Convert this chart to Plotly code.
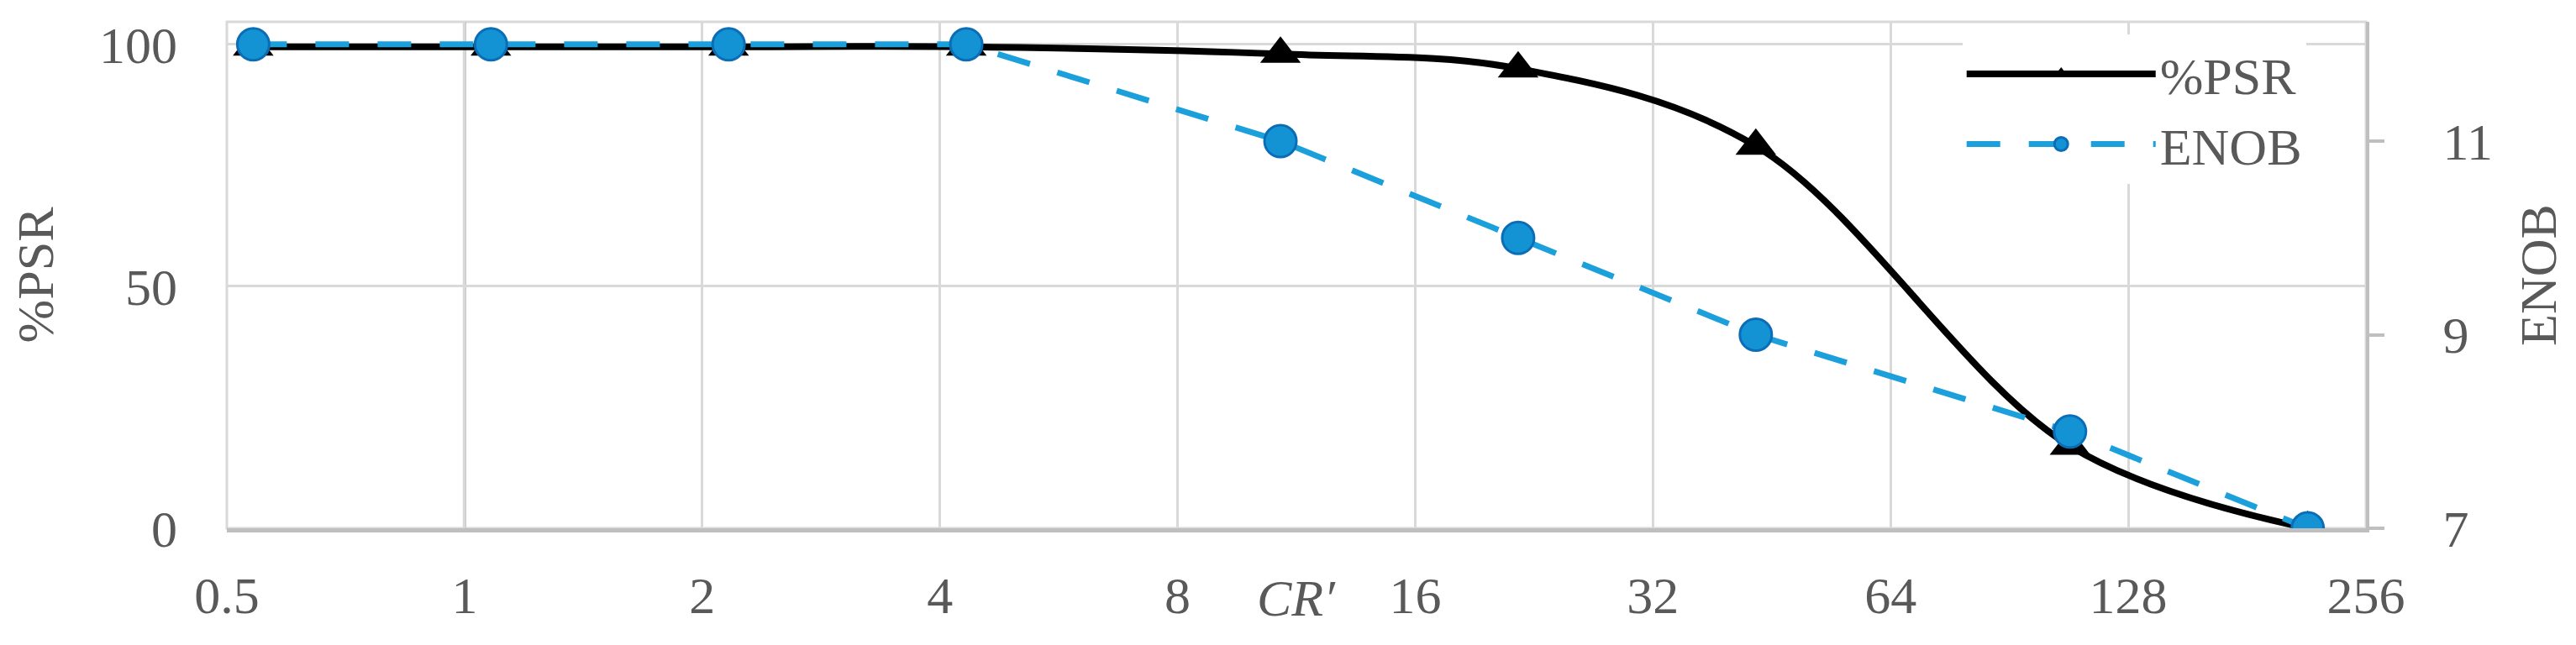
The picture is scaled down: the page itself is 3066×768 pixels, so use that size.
import math
import plotly.graph_objects as go

# ---- data ----
cr_values = [0.54, 1.08, 2.16, 4.32, 10.8, 21.6, 43.2, 108, 216]
psr_values = [99.5, 99.5, 99.5, 99.5, 98, 95, 79, 17, 0]
enob_values = [12, 12, 12, 12, 11, 10, 9, 8, 7]
x_tickvals = [0.5, 1, 2, 4, 8, 16, 32, 64, 128, 256]
x_ticktext = ["0.5", "1", "2", "4", "8", "16", "32", "64", "128", "256"]
psr_ticks = [0, 50, 100]
enob_ticks = [7, 9, 11]
cr_prime = 11.3
axis_cross = 1

FONT = "Liberation Serif"
GREY_TXT = "#595959"
GRID = "#D9D9D9"
AXIS = "#BFBFBF"
FS = 62

fig = go.Figure()
fig.add_trace(go.Scatter(
    x=cr_values, y=psr_values, name="%PSR", mode="lines+markers",
    line=dict(color="black", width=8, shape="spline", smoothing=1),
    marker=dict(symbol="triangle-up", size=42, color="black"),
    yaxis="y"))
fig.add_trace(go.Scatter(
    x=cr_values, y=enob_values, name="ENOB", mode="lines+markers",
    line=dict(color="#1BA0DC", width=7, dash="40px,34px"),
    marker=dict(symbol="circle", size=38, color="#1393D3",
                line=dict(color="#0B6DB6", width=3)),
    yaxis="y2"))

# page body has an 8px margin, so the figure is sized to fit the window
fig.update_layout(
    width=3058, height=760,
    margin=dict(l=262, r=250, t=18, b=139, autoexpand=False),
    paper_bgcolor="white", plot_bgcolor="white",
    font=dict(family=FONT, size=FS, color=GREY_TXT),
    showlegend=True,
    legend=dict(x=0.972, xanchor="right", y=0.975, yanchor="top",
                bgcolor="white", borderwidth=0,
                font=dict(family=FONT, size=FS, color=GREY_TXT),
                itemwidth=225, tracegroupgap=0),
    xaxis=dict(type="log", automargin=False,
               range=[math.log10(x_tickvals[0]), math.log10(x_tickvals[-1])],
               tickvals=x_tickvals, ticktext=x_ticktext,
               showgrid=True, gridcolor=GRID, gridwidth=3,
               showline=True, linecolor=AXIS, linewidth=5,
               ticks="", ticklabelstandoff=22, zeroline=False,
               tickfont=dict(family=FONT, size=FS, color=GREY_TXT)),
    yaxis=dict(range=[0, 104.66], tickvals=psr_ticks, automargin=False,
               showgrid=True, gridcolor=GRID, gridwidth=3,
               zeroline=False, showline=False, ticks="",
               ticklabelstandoff=58,
               title=dict(text="%PSR", standoff=39,
                          font=dict(family=FONT, size=FS, color=GREY_TXT)),
               tickfont=dict(family=FONT, size=FS, color=GREY_TXT)),
    yaxis2=dict(range=[7, 12.233], tickvals=enob_ticks, overlaying="y",
                side="right", showgrid=False, zeroline=False, automargin=False,
                showline=True, linecolor=AXIS, linewidth=4,
                ticks="outside", ticklen=18, tickwidth=4, tickcolor=AXIS,
                ticklabelstandoff=57,
                title=dict(text="ENOB", standoff=33,
                           font=dict(family=FONT, size=FS, color=GREY_TXT)),
                tickfont=dict(family=FONT, size=FS, color=GREY_TXT)),
)

# plot-area border (top/left) and the vertical axis line crossing at 1
fig.add_shape(type="rect", xref="paper", yref="paper", x0=0, x1=1, y0=0, y1=1,
              line=dict(color=GRID, width=3), layer="below")
fig.add_shape(type="line", xref="x", yref="paper", x0=axis_cross, x1=axis_cross,
              y0=0, y1=1, line=dict(color=AXIS, width=4), layer="below")
# white legend panel (covers gridlines behind the legend)
fig.add_shape(type="rect", xref="paper", yref="paper", x0=0.777, x1=0.997,
              y0=0.687, y1=0.995, line=dict(width=0), fillcolor="white",
              layer="between")

fig.add_annotation(x=math.log10(cr_prime), xref="x", y=-0.138, yref="paper",
                   text="<i>CR′</i>", showarrow=False, yanchor="middle",
                   font=dict(family=FONT, size=FS, color=GREY_TXT))

fig.write_html("out.html")
